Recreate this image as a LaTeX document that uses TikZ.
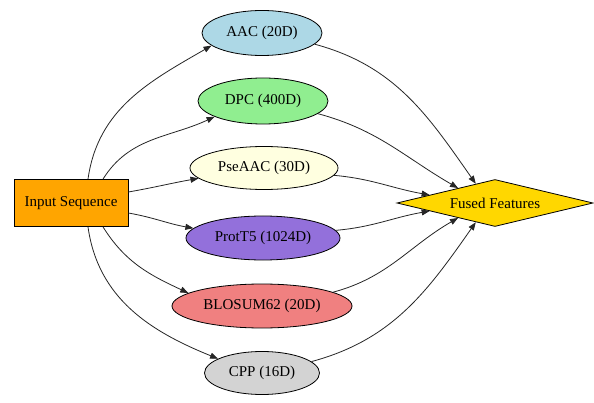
\documentclass[tikz,border=0pt]{standalone}
\usepackage{fontspec}
\setmainfont{Liberation Serif}
\usetikzlibrary{shapes.geometric,arrows.meta}
\definecolor{cOrange}{HTML}{FFA500}
\definecolor{cBlue}{HTML}{ADD8E6}
\definecolor{cGreen}{HTML}{90EE90}
\definecolor{cYellow}{HTML}{FFFFE0}
\definecolor{cPurple}{HTML}{9370DB}
\definecolor{cCoral}{HTML}{F08080}
\definecolor{cGrey}{HTML}{D3D3D3}
\definecolor{cGold}{HTML}{FFD700}
\tikzset{
  lbl/.style={font=\fontsize{15}{17}\selectfont},
  feat/.style={ellipse, draw=black, line width=0.8pt, inner sep=0pt, lbl},
  edge/.style={line width=0.8pt, draw=black!85, -{Triangle[length=8pt,width=6pt]}}
}
\begin{document}
\begin{tikzpicture}[x=1pt,y=1pt]
\useasboundingbox[fill=white] (0,0) rectangle (594,402);
\node[draw=black, line width=0.8pt, fill=cOrange, minimum width=114pt, minimum height=47pt, inner sep=0pt, lbl] (in) at (71,199) {Input Sequence};
\node[feat, fill=cBlue, minimum width=120pt, minimum height=45pt] (aac) at (262,369) {AAC (20D)};
\node[feat, fill=cGreen, minimum width=130pt, minimum height=46pt] (dpc) at (263,301) {DPC (400D)};
\node[feat, fill=cYellow, minimum width=148pt, minimum height=43pt] (pse) at (264,234) {PseAAC (30D)};
\node[feat, fill=cPurple, minimum width=154pt, minimum height=44pt] (prot) at (263,164) {ProtT5 (1024D)};
\node[feat, fill=cCoral, minimum width=180pt, minimum height=44pt] (blo) at (262,96) {BLOSUM62 (20D)};
\node[feat, fill=cGrey, minimum width=115pt, minimum height=43pt] (cpp) at (262,29) {CPP (16D)};
\node[diamond, aspect=4.2, draw=black, line width=0.8pt, fill=cGold, minimum width=196pt, minimum height=47pt, inner sep=0pt, lbl] (fus) at (495,199) {Fused Features};

\draw[edge] ([xshift=17pt]in.north) to[out=82,in=210] (aac.194);
\draw[edge] ([xshift=32pt]in.north) to[out=58,in=205] (dpc.198);
\draw[edge] ([yshift=11pt]in.east) to[out=10,in=190] (pse.189);
\draw[edge] ([yshift=-10pt]in.east) to[out=-10,in=170] (prot.172);
\draw[edge] ([xshift=32pt]in.south) to[out=-58,in=155] (blo.170);
\draw[edge] ([xshift=17pt]in.south) to[out=-82,in=158] (cpp.162);

\draw[edge] (aac.-12) to[out=-15,in=125] (fus.135);
\draw[edge] (dpc.-13) to[out=-15,in=150] (fus.158);
\draw[edge] (pse.-6) to[out=-5,in=170] (fus.173);
\draw[edge] (prot.6) to[out=5,in=190] (fus.187);
\draw[edge] (blo.11) to[out=15,in=210] (fus.202);
\draw[edge] (cpp.13) to[out=15,in=235] (fus.225);
\end{tikzpicture}
\end{document}
